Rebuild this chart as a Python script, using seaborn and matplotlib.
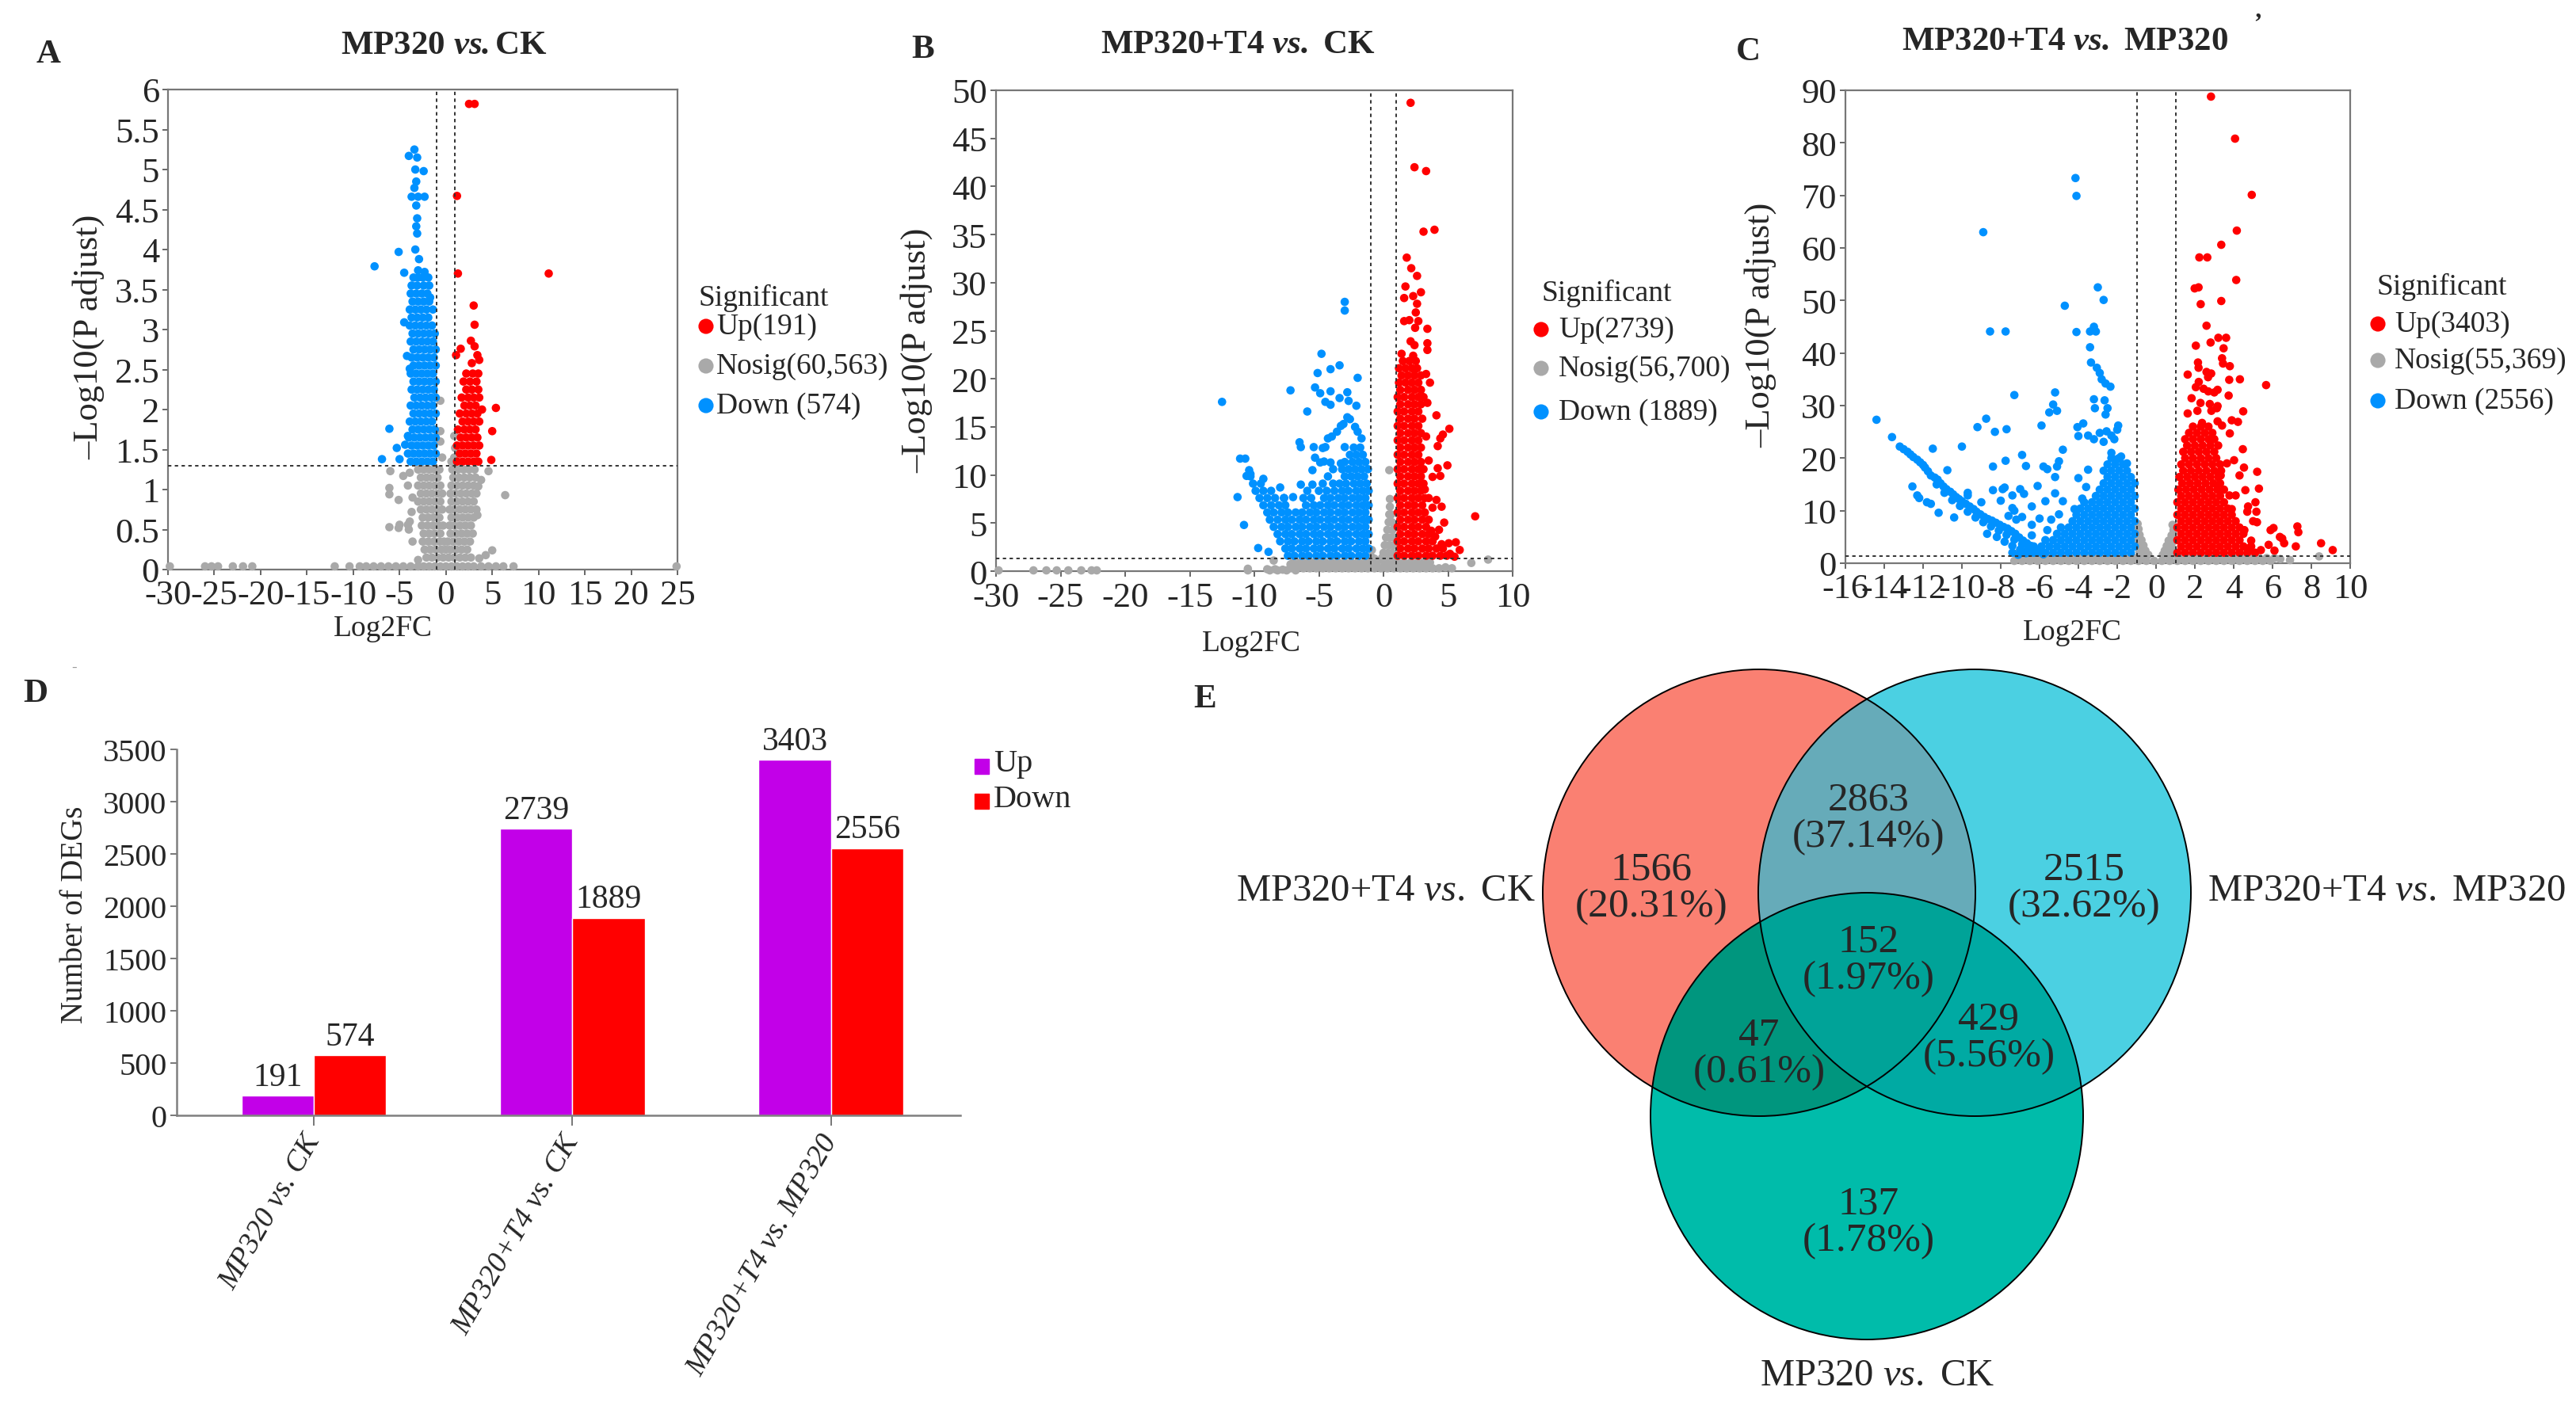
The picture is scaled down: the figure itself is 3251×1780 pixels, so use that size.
import numpy as np
import pandas as pd
import matplotlib
matplotlib.use('Agg')
import matplotlib.pyplot as plt
from matplotlib.patches import Ellipse, Rectangle
import seaborn as sns

sns.set_style('ticks')
plt.rcParams['font.family'] = ['Liberation Serif', 'DejaVu Serif']
plt.rcParams['mathtext.fontset'] = 'custom'
plt.rcParams['mathtext.rm'] = 'Liberation Serif'
plt.rcParams['mathtext.it'] = 'Liberation Serif:italic'
plt.rcParams['mathtext.bf'] = 'Liberation Serif:bold'
plt.rcParams['mathtext.bfit'] = 'Liberation Serif:italic:bold'
plt.rcParams['axes.unicode_minus'] = False

UP, DOWN, NOSIG = '#FF0000', '#0091FF', '#A9A9A9'

# ---------------- A: MP320 vs. CK (log2FC, -log10 padj) ----------------
a_up_pts = [(2.5, 5.82), (3.1, 5.82), (1.2, 4.67), (1.3, 3.7), (11.1, 3.7), (3.0, 3.3), (3.1, 3.06),
            (2.7, 2.86), (3.1, 2.79), (3.4, 2.68), (1.6, 2.76), (1.1, 2.68), (2.8, 2.58), (3.6, 2.62),
            (5.4, 2.02), (5.0, 1.73), (4.9, 1.37), (3.9, 2.0)]
a_up_rows = [(2.45, [2.2, 2.9, 3.5]), (2.35, [1.9, 2.6, 3.3]), (2.25, [2.2, 2.8, 3.5]),
             (2.15, [1.7, 2.4, 3.0, 3.6]), (2.05, [2.0, 2.6, 3.2]), (1.95, [1.5, 2.2, 2.8, 3.4]),
             (1.85, [1.8, 2.4, 3.0, 3.6]), (1.75, [1.3, 2.0, 2.6, 3.2]), (1.65, [1.6, 2.2, 2.8, 3.4]),
             (1.55, [1.2, 1.8, 2.4, 3.0, 3.6]), (1.45, [1.5, 2.1, 2.7, 3.3]),
             (1.35, [1.2, 1.8, 2.4, 3.0, 3.5])]
a_down_pts = [(-3.4, 5.25), (-4.0, 5.17), (-3.1, 5.15), (-3.3, 5.0), (-2.4, 4.98), (-3.2, 4.85),
              (-3.4, 4.77), (-3.7, 4.66), (-3.0, 4.66), (-2.3, 4.66), (-3.2, 4.55), (-3.1, 4.39),
              (-3.2, 4.29), (-3.1, 4.2), (-5.1, 3.97), (-3.3, 4.0), (-2.9, 3.88), (-7.7, 3.79),
              (-4.5, 3.71), (-3.0, 3.74), (-2.3, 3.72), (-1.7, 3.4), (-4.5, 3.09), (-4.2, 2.67),
              (-3.9, 2.51), (-6.1, 1.76), (-5.3, 1.52), (-5.0, 1.38), (-6.9, 1.38), (-4.4, 1.56),
              (-4.1, 1.67)]
a_down_rows = [(3.65, [-3.5, -3.0, -2.5, -1.9]), (3.55, [-3.7, -3.1, -2.4, -1.8]),
               (3.45, [-3.8, -3.2, -2.6, -2.0]), (3.35, [-3.6, -3.0, -2.4, -1.8]),
               (3.25, [-3.9, -3.3, -2.7, -2.1, -1.4]), (3.15, [-3.7, -3.1, -2.5, -1.9]),
               (3.05, [-3.9, -3.3, -2.7, -2.1, -1.5]), (2.95, [-3.6, -3.0, -2.4, -1.8, -1.2]),
               (2.85, [-3.8, -3.2, -2.6, -2.0, -1.4]), (2.75, [-3.5, -2.9, -2.3, -1.7, -1.1]),
               (2.65, [-3.7, -3.1, -2.5, -1.9, -1.3]), (2.55, [-3.5, -2.9, -2.3, -1.7, -1.1]),
               (2.45, [-3.8, -3.2, -2.6, -2.0, -1.4]), (2.35, [-3.5, -2.9, -2.3, -1.7, -1.1]),
               (2.25, [-3.7, -3.1, -2.5, -1.9, -1.3]), (2.15, [-3.4, -2.8, -2.2, -1.6, -1.1]),
               (2.05, [-3.8, -3.2, -2.6, -2.0, -1.4]), (1.95, [-3.5, -2.9, -2.3, -1.7, -1.1]),
               (1.85, [-3.9, -3.3, -2.7, -2.1, -1.5]), (1.75, [-3.6, -3.0, -2.4, -1.8, -1.2]),
               (1.65, [-4.0, -3.4, -2.8, -2.2, -1.6, -1.1]), (1.55, [-3.7, -3.1, -2.5, -1.9, -1.3]),
               (1.45, [-4.1, -3.5, -2.9, -2.3, -1.7, -1.1]), (1.35, [-3.8, -3.2, -2.6, -2.0, -1.4])]
a_nosig_pts = [(-6.0, 1.23), (-4.6, 1.17), (-3.9, 1.21), (-6.1, 1.02), (-6.1, 0.94), (-5.1, 0.87),
               (-4.1, 1.05), (-3.6, 0.9), (-3.7, 0.72), (-6.1, 0.53), (-5.1, 0.52), (-5.0, 0.56),
               (-4.1, 0.56), (-3.9, 0.6), (-4.0, 0.5), (-3.6, 0.35), (-3.0, 0.12), (4.6, 1.23),
               (3.8, 1.12), (3.5, 1.04), (6.4, 0.93), (3.4, 0.68), (3.6, 0.14), (4.3, 0.18), (5.0, 0.24),
               (-0.6, 2.11), (-0.6, 1.73), (-0.6, 1.6), (0.9, 1.67), (1.0, 1.52), (-0.4, 1.4),
               (0.9, 1.4), (0.6, 1.35)]
a_nosig_rows = [(1.25, [-3.0, -2.4, -1.8, -1.2, -0.7, 0.7, 1.3, 1.9, 2.5, 3.1]),
                (1.15, [-2.7, -2.1, -1.5, -0.9, 0.8, 1.4, 2.0, 2.6, 3.2]),
                (1.05, [-3.0, -2.4, -1.8, -1.2, -0.6, 0.6, 1.2, 1.8, 2.4, 3.0]),
                (0.95, [-2.7, -2.1, -1.5, -0.9, -0.4, 0.5, 1.0, 1.6, 2.2, 2.8, 3.3]),
                (0.85, [-3.0, -2.4, -1.8, -1.2, -0.6, 0.6, 1.2, 1.8, 2.4, 3.0]),
                (0.75, [-2.7, -2.1, -1.5, -0.9, -0.4, 0.4, 0.9, 1.5, 2.1, 2.7, 3.3]),
                (0.65, [-2.5, -1.9, -1.3, -0.7, 0.6, 1.2, 1.8, 2.4, 3.0]),
                (0.55, [-2.6, -2.0, -1.4, -0.8, -0.3, 0.4, 0.9, 1.5, 2.1, 2.7]),
                (0.45, [-2.4, -1.8, -1.2, -0.6, 0.5, 1.1, 1.7, 2.3, 2.9]),
                (0.35, [-2.5, -1.9, -1.3, -0.7, -0.2, 0.2, 0.8, 1.4, 2.0, 2.6]),
                (0.25, [-2.3, -1.7, -1.1, -0.5, 0.0, 0.5, 1.1, 1.7, 2.3]),
                (0.15, [-2.1, -1.5, -0.9, -0.3, 0.3, 0.9, 1.5, 2.1, 2.7]),
                (0.04, [-29.8, -26.0, -25.3, -24.6, -23.0, -21.9, -20.9, -12.0, -10.4, -9.3, -8.6,
                        -7.8, -7.0, -6.2, -5.4, -4.6, -3.8, -3.0, -2.4, -1.8, -1.2, -0.6, 0.0, 0.6,
                        1.2, 1.8, 2.4, 3.0, 3.8, 4.6, 5.4, 6.2, 7.3, 24.9])]

# ---------------- B: MP320+T4 vs. CK ----------------
b_up_pts = [(2.1, 48.7), (2.4, 42.0), (3.3, 41.6), (3.1, 35.3), (3.95, 35.5), (1.8, 32.6), (2.15, 31.5),
            (2.6, 30.7), (1.7, 29.6), (2.9, 29.0), (1.6, 28.4), (2.3, 28.6), (2.6, 27.8), (2.5, 26.9),
            (1.6, 26.0), (2.0, 26.1), (2.7, 26.0), (2.45, 25.3), (3.4, 25.2), (2.1, 23.9), (2.4, 23.5),
            (3.4, 23.7), (3.4, 23.0), (1.4, 22.6), (2.3, 22.4), (3.6, 19.6), (4.1, 16.2), (5.1, 14.8),
            (4.6, 14.2), (4.4, 13.8), (4.2, 13.0), (4.95, 11.0), (4.2, 10.7), (4.4, 9.9), (3.8, 9.8),
            (3.5, 11.5), (3.2, 8.5), (3.5, 7.6), (4.1, 7.4), (4.5, 6.7), (3.8, 6.6), (4.7, 5.05),
            (7.1, 5.7), (4.5, 2.8), (5.05, 2.9), (5.6, 3.0), (5.9, 2.2), (5.15, 1.8), (5.5, 1.5),
            (3.7, 4.2), (4.3, 4.3), (4.0, 3.6), (3.3, 14.0), (3.4, 17.5), (3.3, 20.5)]
b_up_rows = [(1.6, [1.1, 1.6, 2.2, 2.7, 3.3, 3.8, 4.4, 4.9]), (2.35, [1.3, 1.9, 2.4, 3.0, 3.5, 4.1, 4.6]),
             (3.1, [1.1, 1.6, 2.2, 2.7, 3.3, 3.8]), (3.85, [1.3, 1.9, 2.4, 3.0, 3.5]),
             (4.6, [1.1, 1.6, 2.2, 2.7, 3.3]), (5.35, [1.3, 1.9, 2.4, 3.0, 3.5]),
             (6.1, [1.1, 1.6, 2.2, 2.7, 3.2]), (6.85, [1.3, 1.9, 2.4, 3.0]),
             (7.6, [1.1, 1.6, 2.2, 2.7, 3.2]), (8.35, [1.3, 1.9, 2.4, 2.9]),
             (9.1, [1.1, 1.6, 2.2, 2.7, 3.1]), (9.85, [1.3, 1.9, 2.4, 2.9]),
             (10.6, [1.1, 1.6, 2.2, 2.7, 3.1]), (11.35, [1.3, 1.9, 2.4, 2.9]),
             (12.1, [1.1, 1.6, 2.2, 2.7]), (12.85, [1.3, 1.9, 2.4, 2.9]), (13.6, [1.1, 1.6, 2.2, 2.7]),
             (14.35, [1.3, 1.9, 2.4, 2.9]), (15.1, [1.1, 1.6, 2.2, 2.7]), (15.85, [1.3, 1.9, 2.4, 3.0]),
             (16.6, [1.1, 1.6, 2.2, 2.7]), (17.35, [1.3, 1.9, 2.4, 2.9]),
             (18.1, [1.1, 1.6, 2.2, 2.7, 3.1]), (18.85, [1.3, 1.9, 2.4, 2.9]),
             (19.6, [1.2, 1.7, 2.2, 2.7]), (20.35, [1.4, 1.9, 2.4, 2.9]), (21.1, [1.2, 1.7, 2.2, 2.6]),
             (21.85, [1.5, 2.0, 2.5])]
b_down_pts = [(-12.5, 17.6), (-3.0, 28.0), (-3.0, 27.1), (-4.8, 22.6), (-5.1, 20.6), (-4.1, 21.0),
              (-3.4, 21.4), (-2.0, 20.1), (-7.2, 18.8), (-5.3, 19.1), (-4.9, 18.5), (-4.1, 18.7),
              (-2.8, 18.6), (-4.5, 17.6), (-4.1, 17.3), (-3.4, 18.0), (-2.7, 17.7), (-2.1, 17.2),
              (-5.9, 16.6), (-2.8, 16.0), (-2.6, 15.8), (-3.1, 15.3), (-3.3, 15.1), (-2.2, 15.0),
              (-2.0, 14.5), (-1.7, 13.8), (-3.6, 14.5), (-4.0, 14.0), (-4.3, 13.8), (-6.5, 13.4),
              (-6.4, 12.9), (-5.4, 12.9), (-4.7, 12.8), (-4.5, 12.9), (-3.0, 12.9), (-5.3, 11.8),
              (-4.9, 11.3), (-4.6, 11.4), (-4.1, 11.3), (-3.3, 11.2), (-11.1, 11.7), (-10.7, 11.7),
              (-10.4, 10.5), (-10.3, 10.1), (-10.6, 9.9), (-9.3, 9.6), (-8.0, 8.7), (-5.5, 9.0),
              (-6.4, 9.0), (-11.3, 7.7), (-10.8, 4.8), (-9.7, 2.4), (-8.9, 2.0), (-7.7, 7.6),
              (-7.0, 7.7), (-5.5, 10.5)]
b_down_rows = [(1.6, [-7.4, -6.9, -6.3, -5.8, -5.2, -4.7, -4.1, -3.6, -3.0, -2.5, -1.9, -1.4]),
               (2.35, [-7.6, -7.1, -6.5, -6.0, -5.4, -4.9, -4.3, -3.8, -3.2, -2.7, -2.1, -1.6, -1.15]),
               (3.1, [-8.0, -7.4, -6.9, -6.3, -5.8, -5.2, -4.7, -4.1, -3.6, -3.0, -2.5, -1.9, -1.4]),
               (3.85, [-8.2, -7.6, -7.1, -6.5, -6.0, -5.4, -4.9, -4.3, -3.8, -3.2, -2.7, -2.1, -1.6,
                       -1.15]),
               (4.6, [-8.5, -7.9, -7.4, -6.8, -6.3, -5.7, -5.2, -4.6, -4.1, -3.5, -3.0, -2.4, -1.9, -1.4]),
               (5.35, [-8.8, -8.2, -7.6, -7.1, -6.5, -6.0, -5.4, -4.9, -4.3, -3.8, -3.2, -2.7, -2.1, -1.6,
                       -1.15]),
               (6.1, [-9.0, -8.5, -7.9, -7.4, -6.8, -6.3, -5.7, -5.2, -4.6, -4.1, -3.5, -3.0, -2.4, -1.9,
                      -1.4]),
               (6.85, [-9.3, -8.7, -8.1, -7.6, -6.0, -5.4, -4.9, -4.3, -3.8, -3.2, -2.7, -2.1, -1.6, -1.15]),
               (7.6, [-9.6, -9.0, -8.4, -7.7, -6.2, -5.6, -4.6, -4.1, -3.5, -3.0, -2.4, -1.9, -1.4]),
               (8.35, [-9.9, -9.3, -8.7, -5.9, -5.0, -4.4, -3.8, -3.2, -2.7, -2.1, -1.6, -1.15]),
               (9.1, [-10.1, -9.5, -4.7, -3.9, -3.4, -2.9, -2.3, -1.8, -1.3]),
               (9.85, [-10.3, -4.3, -3.0, -2.5, -2.0, -1.5]), (10.6, [-3.9, -3.2, -2.7, -2.2, -1.7, -1.2]),
               (11.35, [-3.0, -2.4, -1.9, -1.4]), (12.1, [-2.6, -2.1, -1.6]), (12.85, [-2.3, -1.8])]
b_nosig_pts = [(-8.5, 1.1), (-7.2, 0.7), (-10.5, 0.25), (6.8, 0.85), (8.1, 1.2), (4.8, 0.4), (5.3, 0.3),
               (-9.0, 0.2), (-8.4, 0.2), (-7.8, 0.15), (0.5, 7.5), (0.45, 10.5), (0.5, 6.7), (0.45, 5.9),
               (0.6, 5.9), (0.4, 5.1), (0.65, 5.1), (0.3, 4.3), (0.7, 4.3), (0.2, 3.5), (0.55, 3.5),
               (0.85, 3.5), (0.1, 2.7), (0.45, 2.7), (0.8, 2.7), (0.0, 1.9), (0.35, 1.9), (0.7, 1.9),
               (-0.1, 1.4), (0.25, 1.4), (0.6, 1.4), (0.9, 1.6), (-0.95, 1.5), (-0.9, 2.2),
               (-0.95, 1.2), (-0.7, 1.3)]
b_nosig_rows = [(0.9, [-7.0, -6.5, -6.0, -5.5, -5.0, -4.5, -4.0, -3.5, -3.0, -2.5, -2.0, -1.5, -1.0, -0.5,
                       0.1, 0.6, 1.1, 1.6, 2.1, 2.6, 3.1, 3.6]),
                (0.3, [-7.2, -6.7, -6.2, -5.7, -5.2, -4.7, -4.2, -3.7, -3.2, -2.7, -2.2, -1.7, -1.2, -0.7,
                       -0.2, 0.3, 0.8, 1.3, 1.8, 2.3, 2.8, 3.3, 3.8, 4.3]),
                (0.08, [-29.8, -27.1, -26.1, -25.3, -24.4, -23.4, -22.6, -22.2, -10.5, -8.8, -8.2,
                        -7.5, -6.8])]

# ---------------- C: MP320+T4 vs. MP320 ----------------
c_up_pts = [(2.83, 88.8), (4.07, 80.8), (4.93, 70.1), (4.16, 63.3), (3.36, 60.6), (2.23, 58.2),
            (2.64, 58.2), (4.13, 53.9), (1.99, 52.3), (2.19, 52.5), (2.3, 49.3), (3.36, 49.9),
            (2.6, 45.2), (3.21, 42.9), (3.61, 42.9), (2.05, 41.4), (2.81, 42.0), (3.48, 40.9),
            (3.4, 39.0), (3.45, 38.0), (3.8, 37.5), (2.16, 38.2), (2.19, 37.2), (1.63, 35.9),
            (2.6, 36.4), (2.84, 36.1), (2.68, 35.4), (3.77, 34.9), (4.32, 35.0), (5.67, 33.9),
            (1.83, 31.4), (1.63, 28.5), (4.49, 28.9), (4.22, 26.9), (4.47, 21.7), (4.02, 19.6),
            (3.65, 19.0), (4.53, 18.2), (5.21, 17.4), (3.33, 16.7), (4.3, 16.7), (5.3, 14.2),
            (4.6, 13.9), (5.12, 11.6), (5.17, 9.8), (4.74, 10.8), (5.0, 8.0), (5.9, 6.3), (6.05, 6.7),
            (7.28, 7.0), (7.33, 5.9), (6.38, 5.0), (8.5, 3.8), (9.1, 2.5), (6.5, 4.7), (2.2, 34.5),
            (2.05, 33.5), (2.45, 33.2), (2.69, 32.7), (3.0, 32.5), (3.17, 33.0), (2.29, 30.5),
            (2.77, 30.3), (3.17, 29.9), (3.74, 31.9), (2.13, 29.0), (2.85, 29.0), (3.13, 29.5),
            (2.37, 26.7), (3.17, 27.0), (3.9, 27.2), (3.4, 26.2), (3.8, 24.7), (3.78, 12.9),
            (4.1, 12.9), (3.9, 10.3), (4.7, 9.8), (4.55, 6.3), (5.2, 7.8), (4.8, 2.9), (5.4, 2.5),
            (5.8, 3.5), (6.6, 3.8), (7.2, 3.2), (6.1, 2.4), (4.9, 4.3)]
c_up_rows = [(2.0, [1.1, 1.5, 1.9, 2.3, 2.7, 3.1, 3.5, 3.9, 4.3, 4.7, 5.1]),
             (3.2, [1.3, 1.7, 2.1, 2.5, 2.9, 3.3, 3.7, 4.1, 4.5, 4.9]),
             (4.4, [1.1, 1.5, 1.9, 2.3, 2.7, 3.1, 3.5, 3.9, 4.3]),
             (5.6, [1.3, 1.7, 2.1, 2.5, 2.9, 3.3, 3.7, 4.1, 4.5]),
             (6.8, [1.1, 1.5, 1.9, 2.3, 2.7, 3.1, 3.5, 3.9, 4.3]),
             (8.0, [1.3, 1.7, 2.1, 2.5, 2.9, 3.3, 3.7, 4.1]),
             (9.2, [1.1, 1.5, 1.9, 2.3, 2.7, 3.1, 3.5, 3.9]),
             (10.4, [1.3, 1.7, 2.1, 2.5, 2.9, 3.3, 3.7]),
             (11.6, [1.1, 1.5, 1.9, 2.3, 2.7, 3.1, 3.5]),
             (12.8, [1.3, 1.7, 2.1, 2.5, 2.9, 3.3]),
             (14.0, [1.15, 1.55, 1.95, 2.35, 2.75, 3.15, 3.5]),
             (15.2, [1.35, 1.75, 2.15, 2.55, 2.95, 3.3]),
             (16.4, [1.2, 1.6, 2.0, 2.4, 2.8, 3.2]),
             (17.6, [1.4, 1.8, 2.2, 2.6, 3.0, 3.35]),
             (18.8, [1.3, 1.7, 2.1, 2.5, 2.9, 3.3]),
             (20.0, [1.5, 1.9, 2.3, 2.7, 3.1]),
             (21.2, [1.4, 1.8, 2.2, 2.6, 3.0]),
             (22.4, [1.6, 2.0, 2.4, 2.8, 3.2]),
             (23.6, [1.5, 1.9, 2.3, 2.7, 3.0]),
             (24.8, [1.7, 2.1, 2.5, 2.9]),
             (26.0, [1.9, 2.3, 2.7])]
c_down_pts = [(-4.15, 73.3), (-4.1, 69.9), (-8.9, 63.0), (-3.0, 52.5), (-2.7, 50.1), (-4.7, 49.0),
              (-8.55, 44.1), (-7.75, 44.1), (-4.1, 44.0), (-3.2, 45.0), (-3.4, 44.1), (-3.1, 44.1),
              (-3.4, 41.1), (-3.35, 38.2), (-3.05, 37.2), (-2.9, 36.2), (-2.8, 35.0), (-2.6, 34.2),
              (-2.35, 33.6), (-7.3, 32.0), (-5.2, 32.5), (-5.3, 30.2), (-5.5, 28.7), (-5.1, 29.0),
              (-3.2, 31.2), (-2.65, 31.0), (-3.15, 29.5), (-2.5, 29.5), (-2.6, 28.3), (-14.4, 27.3),
              (-8.75, 27.5), (-9.2, 25.9), (-8.3, 25.0), (-7.7, 25.5), (-5.9, 26.2), (-4.05, 25.9),
              (-3.75, 26.6), (-1.95, 26.2), (-13.6, 24.0), (-4.0, 24.2), (-3.5, 24.3), (-3.2, 23.6),
              (-2.9, 24.8), (-2.55, 25.1), (-2.3, 24.3), (-2.15, 23.6), (-2.0, 25.4), (-2.7, 23.1),
              (-6.9, 20.6), (-6.7, 18.5), (-5.8, 18.4), (-5.6, 17.9), (-5.0, 19.4), (-5.1, 18.4),
              (-4.8, 21.6), (-5.2, 16.4), (-6.1, 14.7), (-7.0, 14.1), (-6.8, 13.2), (-7.4, 12.9),
              (-7.8, 14.4), (-6.4, 10.8), (-7.3, 10.0), (-5.7, 11.8), (-5.2, 13.3), (-11.5, 21.8),
              (-10.75, 17.7), (-10.0, 22.2), (-9.7, 13.4), (-9.7, 12.9), (-9.0, 11.6), (-8.7, 5.6),
              (-8.4, 13.9), (-7.9, 14.1), (-8.0, 11.9), (-8.4, 18.4), (-7.75, 19.5), (-7.4, 10.5),
              (-12.55, 14.6), (-12.3, 12.9), (-12.2, 12.4), (-11.8, 11.6), (-11.6, 11.3), (-11.2, 9.6),
              (-10.4, 8.7), (-4.0, 16.2), (-3.6, 14.5), (-3.5, 17.8), (-3.8, 12.3), (-4.8, 11.8),
              (-5.0, 9.3), (-4.2, 10.3), (-5.4, 8.3), (-6.0, 8.5), (-5.6, 6.3), (-6.4, 7.3), (-6.9, 8.8),
              (-7.2, 8.3), (-7.6, 9.0), (-6.4, 5.3), (-7.6, 6.3), (-2.0, 19.8), (-2.3, 21.0),
              (-1.5, 19.0), (-1.8, 20.3)]
c_band_pts = [(-13.2, 22.2), (-13.0, 21.7), (-12.8, 21.2), (-12.65, 20.7), (-12.5, 20.2), (-12.3, 19.7),
              (-12.15, 19.2), (-12.0, 18.7), (-11.9, 18.2), (-11.75, 17.5), (-11.6, 16.7), (-11.4, 16.3),
              (-11.25, 15.9), (-11.1, 15.2), (-10.95, 14.6), (-10.8, 14.1), (-10.6, 13.6),
              (-10.45, 13.1), (-10.3, 12.6), (-10.15, 12.2), (-10.0, 11.8), (-9.8, 11.3), (-9.6, 10.8),
              (-9.4, 10.3), (-9.25, 9.8), (-9.05, 9.3), (-8.85, 8.8), (-8.65, 8.4), (-8.45, 8.1),
              (-8.25, 7.7), (-8.05, 7.3), (-7.85, 6.9), (-7.65, 6.6), (-7.45, 6.1), (-7.25, 5.6),
              (-7.05, 4.9), (-6.85, 4.3), (-6.65, 3.8), (-6.45, 3.3), (-6.3, 2.8), (-6.1, 2.3),
              (-5.8, 1.7), (-11.3, 15.0), (-10.9, 13.4), (-10.5, 12.0), (-10.1, 10.9), (-9.7, 9.8),
              (-9.3, 8.7), (-8.9, 7.8), (-8.5, 7.0), (-8.1, 6.2), (-7.7, 5.4), (-7.3, 4.5), (-6.9, 3.6),
              (-6.6, 2.8), (-6.3, 2.0), (-8.2, 5.0), (-7.8, 4.1), (-7.4, 3.3), (-7.0, 2.6), (-6.7, 1.9),
              (-7.4, 2.0), (-7.1, 1.6)]
c_down_rows = [(2.0, [-6.9, -6.5, -6.1, -5.7, -5.3, -4.9, -4.5, -4.1, -3.7, -3.3, -2.9, -2.5, -2.1, -1.7,
                      -1.3]),
               (3.2, [-6.3, -5.9, -5.5, -5.1, -4.7, -4.3, -3.9, -3.5, -3.1, -2.7, -2.3, -1.9, -1.5, -1.1]),
               (4.4, [-5.7, -5.3, -4.9, -4.5, -4.1, -3.7, -3.3, -2.9, -2.5, -2.1, -1.7, -1.3]),
               (5.6, [-5.1, -4.7, -4.3, -3.9, -3.5, -3.1, -2.7, -2.3, -1.9, -1.5, -1.1]),
               (6.8, [-4.9, -4.5, -4.1, -3.7, -3.3, -2.9, -2.5, -2.1, -1.7, -1.3]),
               (8.0, [-4.3, -3.9, -3.5, -3.1, -2.7, -2.3, -1.9, -1.5, -1.1]),
               (9.2, [-4.1, -3.7, -3.3, -2.9, -2.5, -2.1, -1.7, -1.3]),
               (10.4, [-3.9, -3.5, -3.1, -2.7, -2.3, -1.9, -1.5, -1.1]),
               (11.6, [-3.7, -3.3, -2.9, -2.5, -2.1, -1.7, -1.3]),
               (12.8, [-3.1, -2.7, -2.3, -1.9, -1.5, -1.1]),
               (14.0, [-2.9, -2.5, -2.1, -1.7, -1.3]),
               (15.2, [-2.7, -2.3, -1.9, -1.5, -1.1]),
               (16.4, [-2.5, -2.1, -1.7, -1.3]),
               (17.6, [-2.7, -2.3, -1.9, -1.5]),
               (18.8, [-2.5, -2.1, -1.7]),
               (20.0, [-2.3, -1.9])]
c_nosig_pts = [(-7.2, 1.8), (-6.9, 2.1), (8.4, 1.3), (6.4, 0.8), (6.9, 0.6), (-0.95, 7.5), (-0.9, 6.5),
               (-0.85, 5.4), (-0.75, 4.4), (-0.95, 4.3), (-0.65, 3.4), (-0.9, 3.2), (-0.55, 2.4),
               (-0.85, 2.2), (-0.4, 1.6), (-0.7, 1.5), (0.85, 7.3), (0.9, 6.3), (0.8, 5.3), (0.65, 4.3),
               (0.9, 4.2), (0.55, 3.3), (0.8, 3.1), (0.45, 2.4), (0.75, 2.2), (0.35, 1.6), (0.65, 1.5),
               (0.95, 1.8)]
c_nosig_rows = [(1.0, [-7.1, -6.7, -6.3, -5.9, -5.5, -5.1, -4.7, -4.3, -3.9, -3.5, -3.1, -2.7, -2.3, -1.9,
                       -1.5, -1.1, -0.7, 0.7, 1.3, 1.7, 2.1, 2.5, 2.9, 3.3, 3.7, 4.1, 4.5, 4.9, 5.3, 5.7,
                       6.1]),
                (0.45, [-7.3, -6.9, -6.5, -6.1, -5.7, -5.3, -4.9, -4.5, -4.1, -3.7, -3.3, -2.9, -2.5, -2.1,
                        -1.7, -1.3, -0.9, -0.5, -0.1, 0.3, 0.7, 1.1, 1.5, 1.9, 2.3, 2.7, 3.1, 3.5, 3.9,
                        4.3, 4.7, 5.1, 5.5, 5.9])]

# ---------------- D: DEG counts ----------------
d_groups = ['MP320 vs. CK', 'MP320+T4 vs. CK', 'MP320+T4 vs. MP320']
d_up = [191, 2739, 3403]
d_down = [574, 1889, 2556]

# ---------------- E: Venn ----------------
venn_names = ['MP320+T4 vs. CK', 'MP320+T4 vs. MP320', 'MP320 vs. CK']
venn_regions = ['only1', 'only2', 'only3', '12', '13', '23', '123']
venn_counts = [1566, 2515, 137, 2863, 47, 429, 152]


def expand(rows):
    return [(x, y) for y, xs in rows for x in xs]


def volcano_df(nosig, down, up):
    parts = []
    for name, pts in (('Nosig', nosig), ('Down', down), ('Up', up)):
        d = pd.DataFrame(pts, columns=['log2fc', 'padj'])
        d['sig'] = name
        parts.append(d)
    return pd.concat(parts, ignore_index=True)


W, H = 3251, 1781
fig = plt.figure(figsize=(W / 100, H / 100), dpi=100)


def frac(l, t, r, b):
    return [l / W, 1 - b / H, (r - l) / W, (b - t) / H]


pal = {'Up': UP, 'Down': DOWN, 'Nosig': NOSIG}


def volcano(rect, df, xlim, ylim, xticks, yticks):
    ax = fig.add_axes(rect)
    sns.scatterplot(data=df, x='log2fc', y='padj', hue='sig', palette=pal, s=58, linewidth=0,
                    legend=False, ax=ax, clip_on=False, zorder=3)
    for v in (-1, 1):
        ax.axvline(v, color='#333333', ls=(0, (2.2, 2.2)), lw=1.4, zorder=4)
    ax.axhline(1.3, color='#333333', ls=(0, (2.2, 2.2)), lw=1.4, zorder=4)
    ax.set_xlim(*xlim)
    ax.set_ylim(*ylim)
    ax.set_xticks(xticks)
    ax.set_xticklabels([f'{v:g}' for v in xticks])
    ax.set_yticks(yticks)
    ax.set_yticklabels([f'{v:g}' for v in yticks])
    ax.set_xlabel('')
    ax.set_ylabel('')
    ax.tick_params(direction='out', length=5, width=1.4, color='#666666', labelsize=32, pad=3)
    ax.tick_params(axis='x', pad=4)
    for s in ax.spines.values():
        s.set_color('#777777')
        s.set_linewidth(1.6)
    return ax


dfa = volcano_df(a_nosig_pts + expand(a_nosig_rows), a_down_pts + expand(a_down_rows),
                 a_up_pts + expand(a_up_rows))
dfb = volcano_df(b_nosig_pts + expand(b_nosig_rows), b_down_pts + expand(b_down_rows),
                 b_up_pts + expand(b_up_rows))
dfc = volcano_df(c_nosig_pts + expand(c_nosig_rows), c_down_pts + c_band_pts + expand(c_down_rows),
                 c_up_pts + expand(c_up_rows))

volcano(frac(212, 114, 855, 720), dfa, (-30, 25), (0, 6), list(range(-30, 26, 5)),
        [i * 0.5 for i in range(13)])
volcano(frac(1257, 115, 1909, 722), dfb, (-30, 10), (0, 50), list(range(-30, 11, 5)),
        list(range(0, 51, 5)))
volcano(frac(2329, 115, 2966, 712), dfc, (-16, 10), (0, 90), list(range(-16, 11, 2)),
        list(range(0, 91, 10)))

# bar chart
d_df = pd.DataFrame({'comparison': d_groups * 2,
                     'direction': ['Up'] * 3 + ['Down'] * 3,
                     'count': d_up + d_down})
axd = fig.add_axes(frac(223, 947, 1212, 1409))
sns.barplot(data=d_df, x='comparison', y='count', hue='direction', hue_order=['Up', 'Down'],
            palette={'Up': '#C200E8', 'Down': '#FF0000'}, width=0.56, saturation=1,
            errorbar=None, legend=False, ax=axd)
for cont in axd.containers:
    axd.bar_label(cont, fontsize=30, padding=3)
axd.set_xlim(-0.53, 2.5)
axd.set_ylim(0, 3500)
axd.set_yticks(range(0, 3501, 500))
axd.set_xticks([0, 1, 2])
axd.set_xticklabels(d_groups, rotation=60, ha='right', va='center', rotation_mode='anchor',
                    fontstyle='italic', fontsize=27)
axd.set_xlabel('')
axd.set_ylabel('')
axd.tick_params(axis='y', direction='out', length=6, width=1.4, color='#777777', labelsize=29, pad=3)
axd.tick_params(axis='x', direction='out', length=9, width=1.4, color='#777777', pad=10)
sns.despine(ax=axd)
for s in ('left', 'bottom'):
    axd.spines[s].set_color('#7f7f7f')
    axd.spines[s].set_linewidth(1.8)

# overlay for labels, legends and the Venn diagram (pixel coordinates)
ov = fig.add_axes([0, 0, 1, 1])
ov.patch.set_alpha(0)

# Venn regions
cen = {'r': (2220, 1128), 'b': (2492, 1128), 'g': (2356, 1410)}
ra, rb = 273, 282
gx, gy = np.meshgrid(np.arange(1930, 2780) + 0.5, np.arange(830, 1705) + 0.5)
inside = {k: ((gx - c[0]) / ra) ** 2 + ((gy - c[1]) / rb) ** 2 <= 1 for k, c in cen.items()}
code = inside['r'] * 1 + inside['b'] * 2 + inside['g'] * 4
lut = np.array([(1, 1, 1, 0)] + [matplotlib.colors.to_rgba(c) for c in
               ['#FA8072', '#4BD0E2', '#66ABB9', '#00BCAA', '#00967E', '#00AAA3', '#00A398']])
ov.imshow(lut[code], extent=(1930, 2780, 1705, 830), origin='upper', interpolation='nearest',
          aspect='auto', zorder=1)
for c in cen.values():
    ov.add_patch(Ellipse(c, 2 * ra, 2 * rb, fill=False, ec='black', lw=1.4, zorder=2))

total = sum(venn_counts)
venn_xy = {'only1': (2084, 1122), 'only2': (2630, 1122), 'only3': (2358, 1544), '12': (2358, 1034),
           '13': (2220, 1331), '23': (2510, 1311), '123': (2358, 1213)}
for reg, n in zip(venn_regions, venn_counts):
    x, y = venn_xy[reg]
    ov.text(x, y, f'{n}\n({100 * n / total:.2f}%)', ha='center', va='center', fontsize=37,
            linespacing=1.0, zorder=3)
vs = r'$\mathit{vs.}$'
ov.text(1938, 1125, venn_names[0].replace('vs.', vs), ha='right', va='center', fontsize=35)
ov.text(2786, 1125, venn_names[1].replace('vs.', vs), ha='left', va='center', fontsize=35)
ov.text(2369, 1737, venn_names[2].replace('vs.', vs), ha='center', va='center', fontsize=35)

# panel letters
for lab, x, y in (('A', 61, 69), ('B', 1165, 63), ('C', 2206, 66), ('D', 45, 876), ('E', 1521, 883)):
    ov.text(x, y, lab, ha='center', va='center', fontsize=31, fontweight='bold')
ov.text(94, 843, '-', ha='center', va='center', fontsize=14, color='#999999')

# volcano titles, axis labels, legends
bvs = r'$\mathbfit{vs.}$'
ov.text(561, 58, 'MP320 ' + bvs + 'CK', ha='center', va='center', fontsize=31, fontweight='bold')
ov.text(1562, 57, 'MP320+T4 ' + bvs + ' CK', ha='center', va='center', fontsize=31, fontweight='bold')
ov.text(2606, 53, 'MP320+T4 ' + bvs + ' MP320', ha='center', va='center', fontsize=31,
        fontweight='bold')
ov.text(2849, 30, '\u2019', ha='center', va='center', fontsize=22, fontweight='bold')
for x, y in ((112, 425), (1157, 442), (2222, 410)):
    ov.text(x, y, '\u2013Log10(P adjust)', rotation=90, ha='center', va='center', fontsize=32)
for x, y in ((483, 794), (1579, 813), (2615, 799)):
    ov.text(x, y, 'Log2FC', ha='center', va='center', fontsize=27)

leg = [((882, 891, 904), (376, 413, 463, 513), ['Up(191)', 'Nosig(60,563)', 'Down (574)']),
       ((1945, 1945, 1967), (370, 417, 466, 521), ['Up(2739)', 'Nosig(56,700)', 'Down (1889)']),
       ((3000, 3001, 3022), (362, 410, 456, 507), ['Up(3403)', 'Nosig(55,369)', 'Down (2556)'])]
for (xt, xm, xl), (yt, *ys), labels in leg:
    ov.text(xt, yt, 'Significant', ha='left', va='center', fontsize=27)
    ov.scatter([xm] * 3, ys, s=190, c=[UP, NOSIG, DOWN], linewidths=0, zorder=3)
    for y, lab in zip(ys, labels):
        ov.text(xl, y, lab, ha='left', va='center', fontsize=27)

# bar legend and y label
ov.add_patch(Rectangle((1230, 959), 18, 19, color='#C200E8'))
ov.add_patch(Rectangle((1230, 1003), 18, 19, color='#FF0000'))
ov.text(1254, 965, 'Up', ha='left', va='center', fontsize=29)
ov.text(1254, 1010, 'Down', ha='left', va='center', fontsize=29)
ov.text(94, 1155, 'Number of DEGs', rotation=90, ha='center', va='center', fontsize=28)

ov.set_xlim(0, W)
ov.set_ylim(H, 0)
ov.axis('off')

fig.savefig('out.png', dpi=100)
